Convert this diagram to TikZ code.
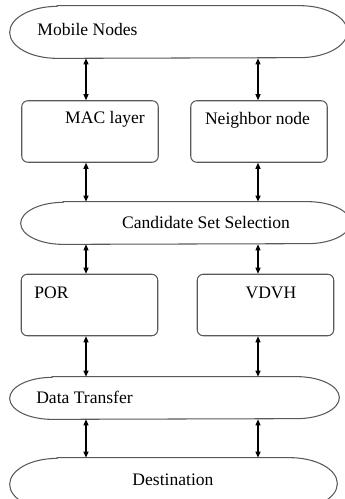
\documentclass[tikz,border=0pt]{standalone}
\usepackage{fontspec}
\setmainfont{Liberation Serif}
\usepackage{tikz}
\usetikzlibrary{positioning}
\usetikzlibrary{arrows.meta}
\tikzstyle{oval}=[rectangle,inner sep=0pt]
\tikzstyle{ovalline}=[draw=black!65,line width=0.6pt]
\tikzstyle{blk}=[rectangle,rounded corners=0.12cm,draw=black!65,line width=0.6pt,inner sep=0pt,minimum width=2.73cm,minimum height=1.23cm]
\tikzstyle{lbl}=[inner sep=0pt,font=\normalsize]
\tikzstyle{link}=[line width=0.6pt,{Triangle[length=0.12cm,width=0.1cm]}-{Triangle[length=0.12cm,width=0.1cm]}]
% outline of an oval node: #1 name, #2 x radius, #3 y radius
\newcommand{\ovaloutline}[3]{%
	\draw[ovalline] ([xshift=#2]#1.north west) -- ([xshift=-#2]#1.north east)
		arc[start angle=90,end angle=-90,x radius=#2,y radius=#3]
		-- ([xshift=#2]#1.south west)
		arc[start angle=270,end angle=90,x radius=#2,y radius=#3] -- cycle;}

\begin{document}
\begin{tikzpicture}

	\useasboundingbox (0,0) rectangle (6.90,-9.98);

	\coordinate (lx) at (1.72,0);
	\coordinate (rx) at (5.16,0);

	% ovals
	\node [oval, minimum width=6.74cm, minimum height=1.04cm] (mob) at (3.57,-0.64) {};
	\ovaloutline{mob}{0.95cm}{0.52cm}
	\node [lbl] at (1.75,-0.58) {Mobile Nodes};

	\node [oval, minimum width=6.58cm, minimum height=0.84cm] (css) at (3.71,-4.46) {};
	\ovaloutline{css}{0.85cm}{0.42cm}
	\node [lbl] at (4.12,-4.44) {Candidate Set Selection};

	\node [oval, minimum width=6.58cm, minimum height=0.84cm] (dt) at (3.49,-7.96) {};
	\ovaloutline{dt}{0.85cm}{0.42cm}
	\node [lbl] at (1.69,-7.94) {Data Transfer};

	\node [oval, minimum width=6.54cm, minimum height=1.04cm] (dest) at (3.47,-9.68) {};
	\ovaloutline{dest}{0.95cm}{0.52cm}
	\node [lbl] at (3.46,-9.60) {Destination};

	% boxes
	\node [blk] (mac) at (1.80,-2.63) {};
	\node [lbl] at (2.10,-2.38) {MAC layer};

	\node [blk] (nbr) at (5.18,-2.63) {};
	\node [lbl] at (5.15,-2.40) {Neighbor node};

	\node [blk] (por) at (1.79,-6.10) {};
	\node [lbl] at (1.03,-5.86) {POR};

	\node [blk] (vdvh) at (5.31,-6.10) {};
	\node [lbl] at (5.42,-5.86) {VDVH};

	% arrows
	\draw[link] (mob.south -| lx) -- (mac.north -| lx);
	\draw[link] (mob.south -| rx) -- (nbr.north -| rx);

	\draw[link] (mac.south -| lx) -- (css.north -| lx);
	\draw[link] (nbr.south -| rx) -- (css.north -| rx);

	\draw[link] (css.south -| lx) -- (por.north -| lx);
	\draw[link] (css.south -| rx) -- (vdvh.north -| rx);

	\draw[link] (por.south -| lx) -- (dt.north -| lx);
	\draw[link] (vdvh.south -| rx) -- (dt.north -| rx);

	\draw[link] (dt.south -| lx) -- (dest.north -| lx);
	\draw[link] (dt.south -| rx) -- (dest.north -| rx);

\end{tikzpicture}
\end{document}
